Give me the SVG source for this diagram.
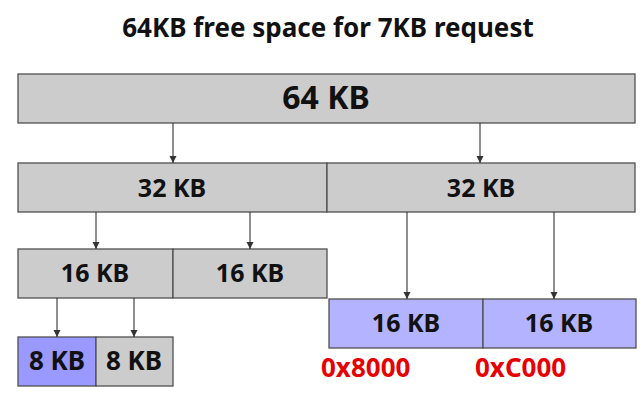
<svg xmlns="http://www.w3.org/2000/svg" width="641" height="405" viewBox="0 0 641 405">
<style>
.box{stroke:#505050;stroke-width:1.3}
.g{fill:#cccccc}
.b1{fill:#9999ff}
.b2{fill:#b3b3ff}
.t{font-family:"Noto Sans","DejaVu Sans",sans-serif;font-weight:bold;fill:#111;text-anchor:middle}
.hex{font-family:"Noto Sans","DejaVu Sans",sans-serif;font-weight:bold;fill:#e60000;font-size:26px}
.c{stroke:#333;stroke-width:1.1;fill:none;marker-end:url(#ah)}
</style>
<defs>
<marker id="ah" markerWidth="8" markerHeight="8" refX="7" refY="4" orient="auto" markerUnits="userSpaceOnUse">
<path d="M0,0.5 L7,4 L0,7.5 Z" fill="#333"/>
</marker>
</defs>
<rect width="641" height="405" fill="#fff"/>
<text class="t" x="328" y="37" font-size="26">64KB free space for 7KB request</text>
<g id="n64"><rect class="box g" x="18" y="74" width="617" height="49"/><text class="t" x="326" y="109" font-size="32">64 KB</text></g>
<g id="n32a"><rect class="box g" x="18" y="163" width="309" height="49"/><text class="t" x="172" y="197" font-size="25">32 KB</text></g>
<g id="n32b"><rect class="box g" x="327" y="163" width="308" height="49"/><text class="t" x="481" y="197" font-size="25">32 KB</text></g>
<g id="n16a"><rect class="box g" x="18" y="249" width="155" height="49"/><text class="t" x="95" y="282" font-size="25">16 KB</text></g>
<g id="n16b"><rect class="box g" x="173" y="249" width="154" height="49"/><text class="t" x="250" y="282" font-size="25">16 KB</text></g>
<g id="n8a"><rect class="box b1" x="18" y="337" width="78" height="49"/><text class="t" x="57" y="370" font-size="26">8 KB</text></g>
<g id="n8b"><rect class="box g" x="96" y="337" width="77" height="49"/><text class="t" x="134" y="370" font-size="26">8 KB</text></g>
<g id="n16c"><rect class="box b2" x="329" y="299" width="154" height="49"/><text class="t" x="406" y="332" font-size="25">16 KB</text></g>
<g id="n16d"><rect class="box b2" x="483" y="299" width="153" height="49"/><text class="t" x="559" y="332" font-size="25">16 KB</text></g>
<g id="labels">
<text class="hex" x="321" y="377">0x8000</text>
<text class="hex" x="475" y="377">0xC000</text>
</g>
<g id="connectors">
<line class="c" x1="173" y1="123" x2="173" y2="163"/>
<line class="c" x1="480" y1="123" x2="480" y2="163"/>
<line class="c" x1="96" y1="212" x2="96" y2="249"/>
<line class="c" x1="250" y1="212" x2="250" y2="249"/>
<line class="c" x1="407" y1="212" x2="407" y2="299"/>
<line class="c" x1="554" y1="212" x2="554" y2="299"/>
<line class="c" x1="57" y1="298" x2="57" y2="337"/>
<line class="c" x1="134" y1="298" x2="134" y2="337"/>
</g>
</svg>
